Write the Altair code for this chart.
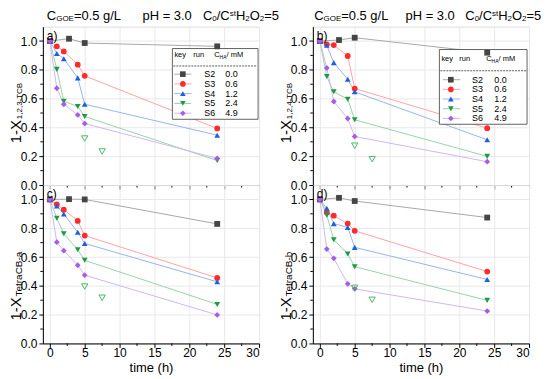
import altair as alt
import pandas as pd

FONT = "Arial"

# ---------------- data ----------------
T_MAIN = [0, 1, 2, 4, 5, 24]
T_S2 = [0, 2.75, 5, 24]
T_OPEN = [5, 7.5]
SERIES = ["S2", "S3", "S4", "S5", "S6"]
C_HA = ["0.0", "0.6", "1.2", "2.4", "4.9"]

# a) 1-X 1,2,3-TCB
A_S2 = [1.0, 1.016, 0.986, 0.963]
A_S3 = [1.0, 0.963, 0.928, 0.836, 0.758, 0.393]
A_S4 = [1.0, 0.914, 0.877, 0.744, 0.561, 0.346]
A_S5 = [1.0, 0.803, 0.582, 0.545, 0.476, 0.170]
A_S6 = [1.0, 0.672, 0.561, 0.487, 0.427, 0.185]
A_OPEN = [0.323, 0.233]

# b) 1-X 1,2,4-TCB
B_S2 = [1.0, 1.007, 1.023, 0.919]
B_S3 = [1.0, 0.977, 0.972, 0.896, 0.670, 0.395]
B_S4 = [1.0, 0.970, 0.850, 0.734, 0.647, 0.314]
B_S5 = [1.0, 0.753, 0.647, 0.596, 0.453, 0.199]
B_S6 = [1.0, 0.813, 0.580, 0.462, 0.337, 0.162]
B_OPEN = [0.273, 0.180]

# c) 1-X TetraCB-a
C_S2 = [1.0, 1.002, 1.0, 0.830]
C_S3 = [1.0, 0.966, 0.929, 0.851, 0.749, 0.455]
C_S4 = [1.0, 0.954, 0.899, 0.772, 0.694, 0.428]
C_S5 = [1.0, 0.869, 0.761, 0.651, 0.577, 0.271]
C_S6 = [1.0, 0.703, 0.644, 0.543, 0.474, 0.198]
C_OPEN = [0.395, 0.317]

# d) 1-X TetraCB-b
D_S2 = [1.0, 1.011, 0.989, 0.874]
D_S3 = [1.0, 0.910, 0.887, 0.832, 0.782, 0.499]
D_S4 = [1.0, 0.938, 0.832, 0.805, 0.667, 0.444]
D_S5 = [1.0, 0.890, 0.720, 0.621, 0.533, 0.299]
D_S6 = [1.0, 0.655, 0.591, 0.414, 0.379, 0.225]
D_OPEN = [0.386, 0.303]

X_TICKS = [0, 5, 10, 15, 20, 25, 30]
Y_TICKS = [0.0, 0.2, 0.4, 0.6, 0.8, 1.0]
X_MINOR = [2.5, 7.5, 12.5, 17.5, 22.5, 27.5]
Y_MINOR = [0.1, 0.3, 0.5, 0.7, 0.9]

# ---------------- style ----------------
MARK_COLORS = ["#454545", "#ff2b2b", "#1c5fe3", "#1d9a44", "#a35de6"]
LINE_COLORS = ["#a8a8a8", "#ffa3a3", "#96b5f0", "#98d3aa", "#d3b5f1"]
SHAPES = ["square", "circle", "triangle-up", "triangle-down", "diamond"]
OPEN_COLOR = "#36b455"
W, H = 217, 159

line_scale = alt.Scale(domain=SERIES, range=LINE_COLORS)
fill_scale = alt.Scale(domain=SERIES, range=MARK_COLORS)
shape_scale = alt.Scale(domain=SERIES, range=SHAPES)
xs = alt.Scale(domain=[-1, 30], nice=False, zero=False)
ys = alt.Scale(domain=[0, 1.1], nice=False, zero=False)

CW = {"C": .722, "G": .778, "O": .778, "E": .667, "=": .584, "0": .556, ".": .278,
      "5": .556, " ": .278, "g": .556, "/": .278, "L": .556, "s": .5, "t": .278,
      "H": .722, "2": .556, "p": .556, "3": .556, "1": .556, "-": .333, "X": .667,
      ",": .278, "4": .556, "T": .611, "B": .667, "e": .556, "r": .333, "a": .556,
      "b": .556, "A": .667, "k": .5, "y": .5, "u": .556, "n": .556, "m": .833,
      "M": .833}

DUMMY = pd.DataFrame({"k": [0]})


def tw(s, fs):
    return sum(CW.get(ch, 0.556) for ch in s) * fs


def txt(x, y, s, fs, angle=0, align="left", baseline="alphabetic"):
    return alt.Chart(DUMMY).mark_text(
        text=s, fontSize=fs, font=FONT, color="black", align=align,
        baseline=baseline, angle=angle
    ).encode(x=alt.value(x), y=alt.value(y))


def hrun(pieces, x0, y0):
    out, x = [], x0
    for s, fs, dy in pieces:
        out.append(txt(x, y0 + dy, s, fs))
        x += tw(s, fs)
    return out


def vrun(pieces, xb, y0):
    out, y = [], y0
    for s, fs, dx in pieces:
        out.append(txt(xb + dx, y, s, fs, angle=270))
        y -= tw(s, fs) + 0.8
    return out


def long_df(s2, s3, s4, s5, s6):
    rows = []
    for t, v in zip(T_S2, s2):
        rows.append({"t": t, "v": v, "series": "S2"})
    for name, vals in zip(SERIES[1:], [s3, s4, s5, s6]):
        for t, v in zip(T_MAIN, vals):
            rows.append({"t": t, "v": v, "series": name})
    return pd.DataFrame(rows)


def panel(letter, vals, openv, ytitle_sub, sub_fs, ytitle_y0, bottom, legend, title):
    df = long_df(*vals)
    xaxis = alt.Axis(values=X_TICKS, labels=bottom, tickSize=4, tickColor="black",
                     domainColor="black", grid=True, gridColor="#e8e8e8",
                     labelFontSize=12, labelFont=FONT, labelColor="black",
                     labelPadding=0, titleFont=FONT, titleFontSize=13,
                     titleFontWeight="normal", titleColor="black", titlePadding=3)
    yaxis = alt.Axis(values=Y_TICKS, format=".1f", tickSize=4, tickColor="black",
                     domainColor="black", grid=True, gridColor="#e8e8e8",
                     labelFontSize=12, labelFont=FONT, labelColor="black",
                     labelPadding=2)
    X = alt.X("t:Q", scale=xs, axis=xaxis, title="time (h)" if bottom else None)
    Y = alt.Y("v:Q", scale=ys, axis=yaxis, title=None)

    base = alt.Chart(df)
    lines = base.mark_line(strokeWidth=1).encode(
        x=X, y=Y,
        stroke=alt.Stroke("series:N", scale=line_scale, legend=None),
        detail="series:N")
    pts = base.mark_point(filled=True, size=34, opacity=1).encode(
        x=X, y=Y,
        fill=alt.Fill("series:N", scale=fill_scale, legend=None),
        shape=alt.Shape("series:N", scale=shape_scale, legend=None))
    opn = alt.Chart(pd.DataFrame({"t": T_OPEN, "v": openv})).mark_point(
        shape="triangle-down", filled=False, stroke=OPEN_COLOR, strokeWidth=0.9,
        size=40, opacity=1).encode(x=X, y=Y)

    minor_y = alt.Chart(pd.DataFrame({"t": [0] * len(Y_MINOR), "v": Y_MINOR})).mark_rule(
        color="black", strokeWidth=1).encode(y=Y, x=alt.value(-2.5), x2=alt.value(0))
    minor_x = alt.Chart(pd.DataFrame({"t": X_MINOR, "v": [0] * len(X_MINOR)})).mark_rule(
        color="black", strokeWidth=1).encode(x=X, y=alt.value(H), y2=alt.value(H + 2.5))

    layers = [lines]
    if legend is not None:
        bx0, bx1, by0, by1 = legend["box"]
        box = alt.Chart(DUMMY).mark_rect(
            fill="white", stroke="#3c3c3c", strokeWidth=0.8).encode(
            x=alt.value(bx0), x2=alt.value(bx1), y=alt.value(by0), y2=alt.value(by1))
        layers.append(box)
    layers += [pts, opn]
    if legend is not None:
        r0, dr = legend["rows"]
        lx0, lx1, mx, sx, vx = legend["cols"]
        for i, name in enumerate(SERIES):
            ry = r0 + dr * i
            layers.append(alt.Chart(DUMMY).mark_rule(
                strokeWidth=1, color=LINE_COLORS[i]).encode(
                x=alt.value(lx0), x2=alt.value(lx1), y=alt.value(ry)))
            layers.append(alt.Chart(DUMMY).mark_point(
                filled=True, size=32, opacity=1, shape=SHAPES[i],
                color=MARK_COLORS[i]).encode(x=alt.value(mx), y=alt.value(ry)))
            layers.append(txt(sx, ry, name, 9, baseline="middle"))
            layers.append(txt(vx, ry, C_HA[i], 9, baseline="middle"))
        hx_key, hx_run, hx_c, hy = legend["header"]
        layers += hrun([("key", 7.5, 0)], hx_key, hy)
        layers += hrun([("run", 7.5, 0)], hx_run, hy)
        layers += hrun([("C", 7.5, 0), ("HA", 5, 1.5), ("/ mM", 7.5, 0)], hx_c, hy)
        layers.append(alt.Chart(DUMMY).mark_rule(
            strokeDash=[2, 1], color="#333333", strokeWidth=0.8).encode(
            x=alt.value(bx0 + 1), x2=alt.value(bx1 - 1), y=alt.value(legend["dash"])))
    layers.append(txt(4, 9, letter + ")", 12, baseline="middle"))
    layers += vrun([("1-X", 15, 0), (ytitle_sub, sub_fs, 0.7)], -22, ytitle_y0)
    layers += [minor_y, minor_x]
    if title is not None:
        x1, x2, x3 = title
        ty = -7
        layers += hrun([("C", 13, 0), ("GOE", 8, 1.7), ("=0.5 g/L", 13, 0)], x1, ty)
        layers += hrun([("pH = 3.0", 13, 0)], x2, ty)
        layers += hrun([("C", 13, 0), ("0", 8, 1.7), ("/", 13, 0), ("C", 13, 0),
                        ("st", 8, -4), ("H", 13, 0), ("2", 8, 1.7), ("O", 13, 0),
                        ("2", 8, 1.7), ("=5", 13, 0)], x3, ty)
    return alt.layer(*layers).properties(width=W, height=H)


LEG_A = {"box": (130, 216, 22, 93), "rows": (47.7, 9.8),
         "cols": (132, 149, 140.5, 162, 183), "header": (132, 151, 172, 30.5), "dash": 39.5}
LEG_B = {"box": (127, 215, 23, 98), "rows": (53.3, 9.7),
         "cols": (130.5, 148, 138.5, 159.7, 182), "header": (129, 147, 174, 35), "dash": 44.3}

pa = panel("a", [A_S2, A_S3, A_S4, A_S5, A_S6], A_OPEN, "1,2,3-TCB", 8, 117, False, LEG_A, (4, 100, 160.7))
pb = panel("b", [B_S2, B_S3, B_S4, B_S5, B_S6], B_OPEN, "1,2,4-TCB", 8, 117, False, LEG_B, (1.3, 93, 153))
pc = panel("c", [C_S2, C_S3, C_S4, C_S5, C_S6], C_OPEN, "TetraCB-a", 10, 136, True, None, None)
pd_ = panel("d", [D_S2, D_S3, D_S4, D_S5, D_S6], D_OPEN, "TetraCB-b", 10, 136, True, None, None)

chart = alt.concat(pa, pb, pc, pd_, columns=2, spacing={"row": 0, "column": 54},
                   bounds="flush").properties(
    padding={"left": 0, "top": 0, "right": 0, "bottom": 0}
).configure_view(stroke="black", strokeWidth=1).configure(font=FONT)

chart.save("out.html", embed_options={"renderer": "svg", "actions": False})
